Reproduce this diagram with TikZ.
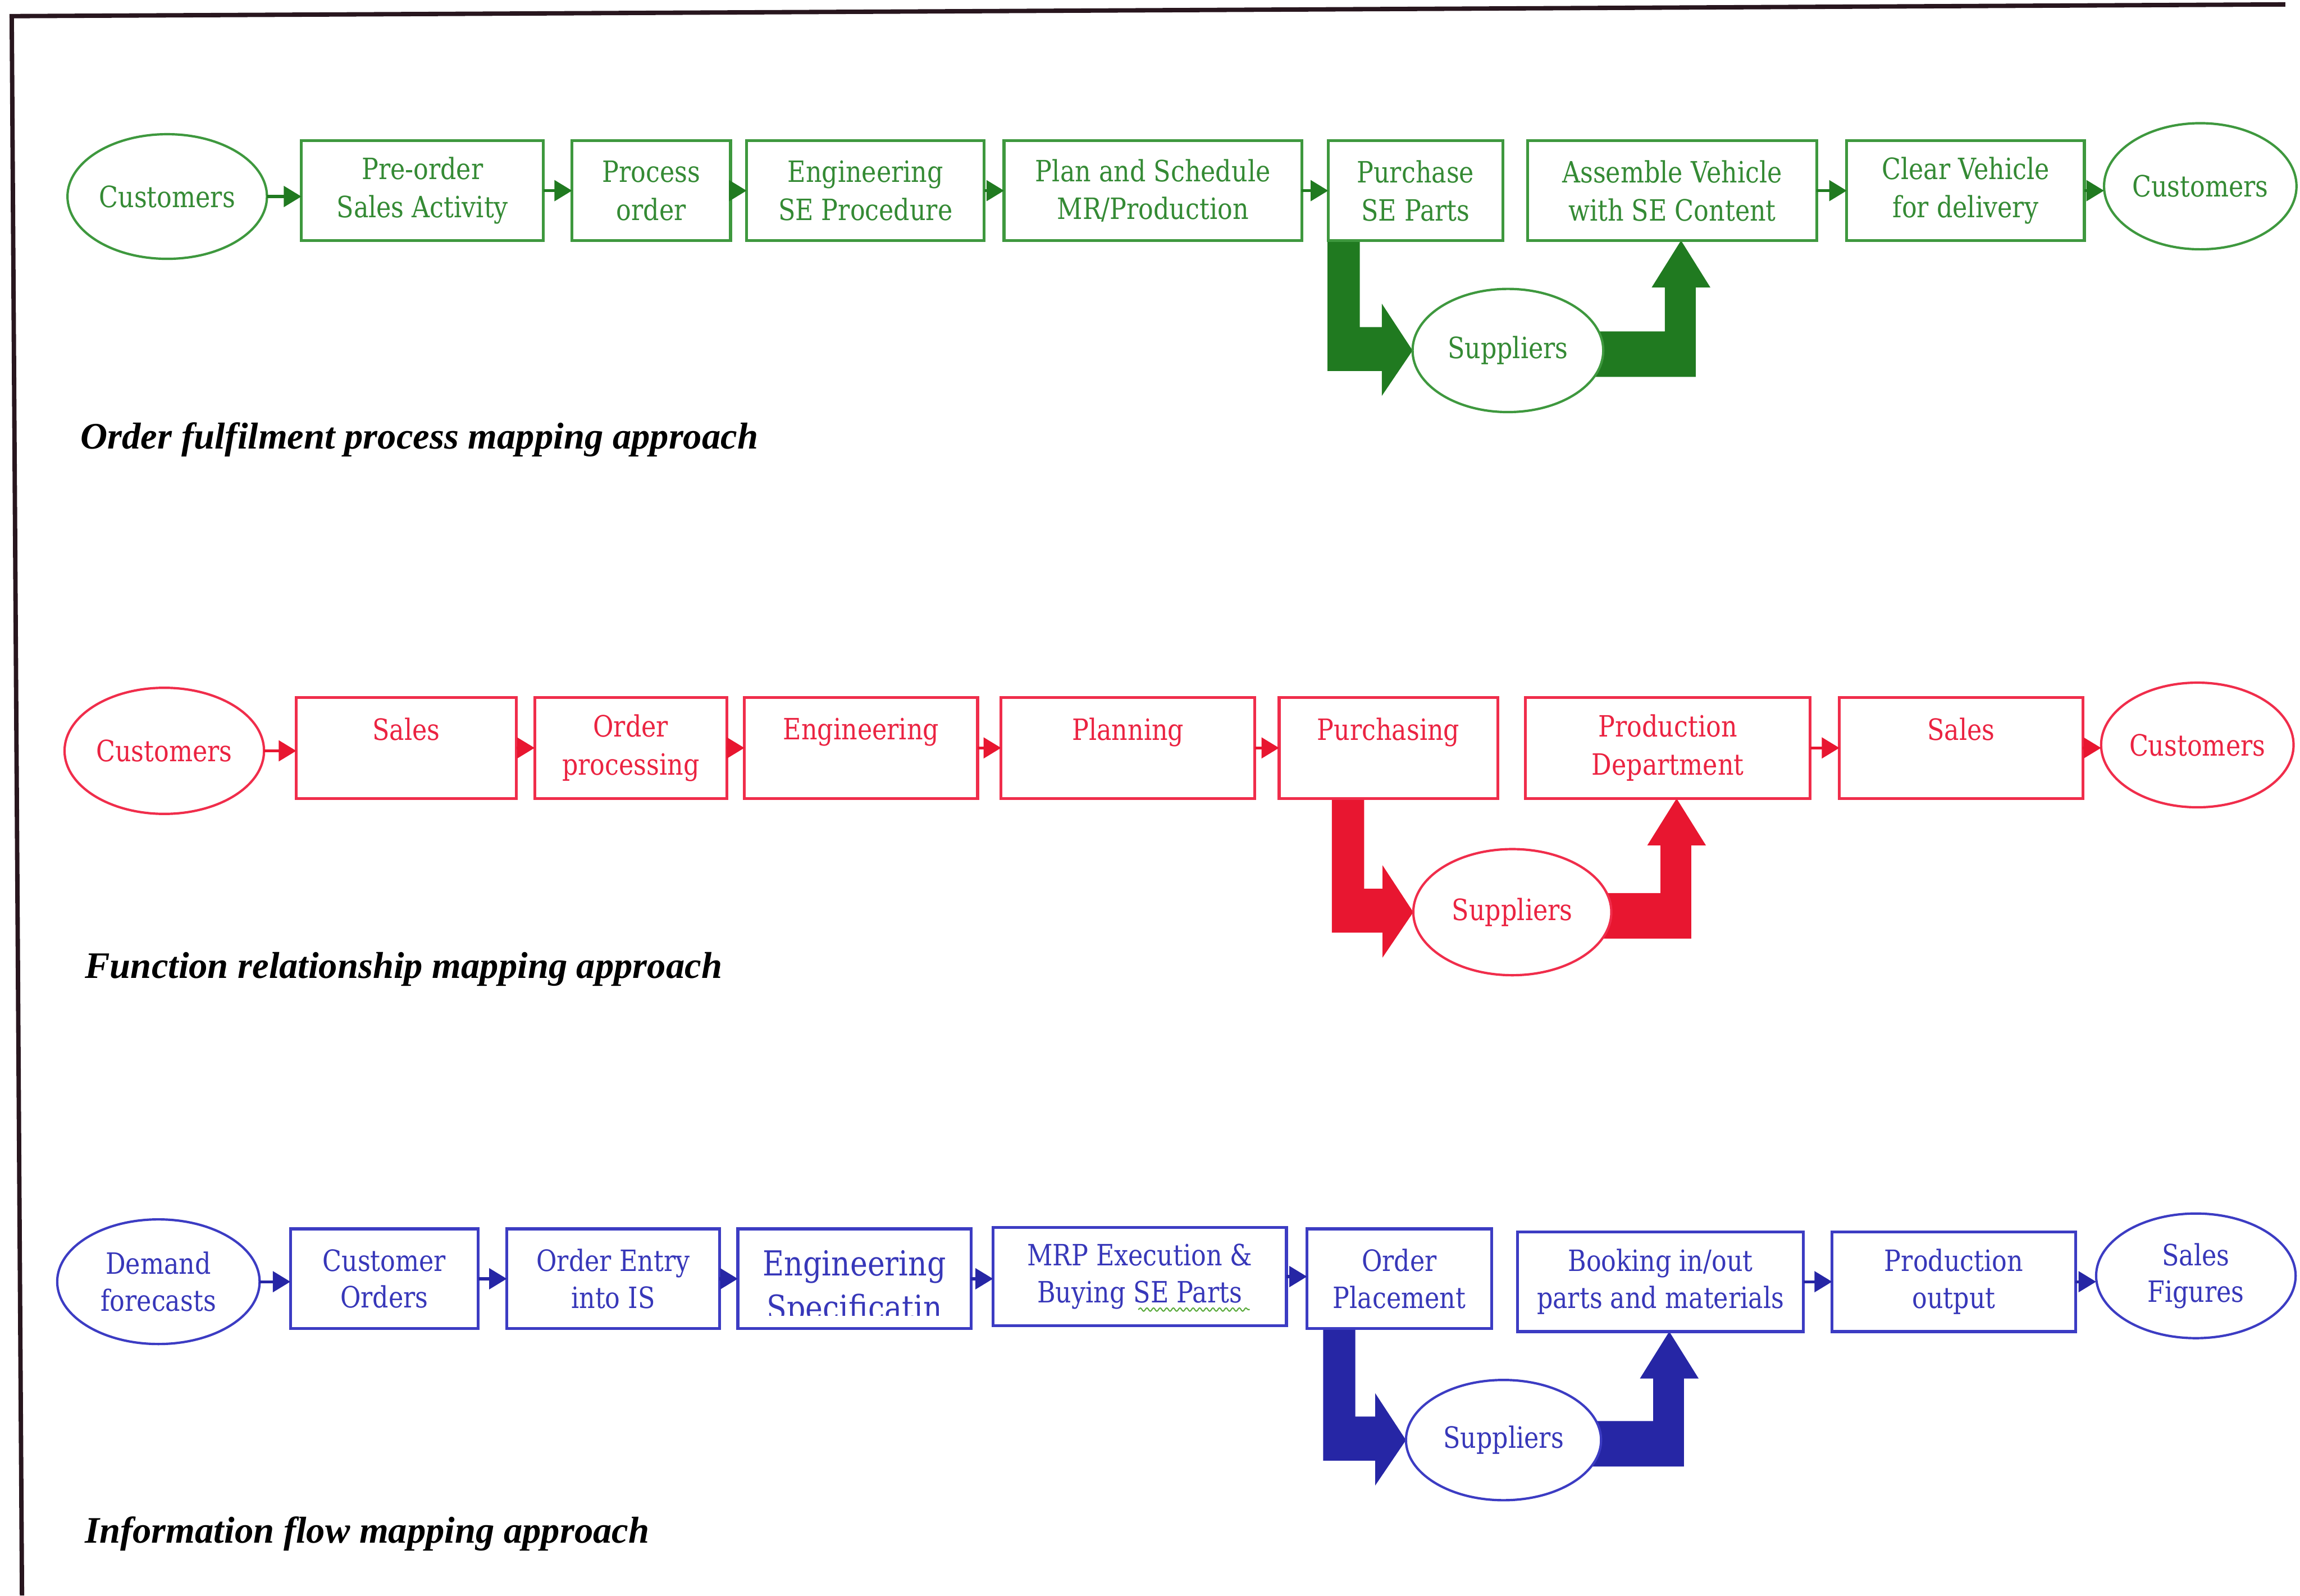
\documentclass[tikz,border=0pt]{standalone}
\usepackage{fontspec}
\setmainfont{Liberation Serif}
\newfontfamily\boxfont[FakeStretch=0.85]{DejaVu Serif}
\usetikzlibrary{calc,arrows.meta,backgrounds,shapes.geometric,decorations.pathmorphing}
\definecolor{gline}{RGB}{62,152,62}
\definecolor{gtext}{RGB}{52,138,52}
\definecolor{gdark}{RGB}{32,122,32}
\definecolor{rline}{RGB}{240,45,75}
\definecolor{rtext}{RGB}{235,35,65}
\definecolor{rdark}{RGB}{232,22,48}
\definecolor{bline}{RGB}{60,60,195}
\definecolor{btext}{RGB}{55,55,185}
\definecolor{bdark}{RGB}{38,38,165}
\definecolor{framec}{RGB}{40,22,30}
\definecolor{squig}{RGB}{90,170,60}

% thick L-shaped arrow from a box down into the supplier ellipse
\newcommand{\downin}[3]{%
  \coordinate (#2-a) at ($(#2.center)+(-123,0)$);
  \fill[#3] (#2-a |- #1.south) -- ++(22,0) |- ($(#2.west)+(-21,-16)$) -- ++(0,-16)
     -- (#2.west) -- ($(#2.west)+(-21,31)$) -- ++(0,-17) -| (#2-a |- #1.south) -- cycle;}
% thick L-shaped arrow from the supplier ellipse up into a box
\newcommand{\upout}[3]{%
  \coordinate (#2-t) at ($(#2.south)+(6,0)$);
  \fill[#3] ($(#1.east)+(-6,-13)$) -| ($(#2-t)+(-11,32)$) -- ++(-9,0) -- (#2-t)
     -- ($(#2-t)+(20,32)$) -- ++(-10,0) |- ($(#1.east)+(-6,18)$) -- cycle;}
\newcommand{\cn}[3]{\draw[#1] (#2.east) -- (#2.east -| #3.west);}

\begin{document}
\begin{tikzpicture}[x=1pt,y=-1pt,
  every node/.style={inner sep=0pt, outer sep=0pt},
  lbl/.style={font=\boxfont\fontsize{20}{26}\selectfont, align=center},
  lblb/.style={font=\boxfont\fontsize{20}{25}\selectfont, align=center},
  gbox/.style={draw=gline, text=gtext, line width=2pt, fill=white, lbl},
  gell/.style={ellipse, draw=gline, text=gtext, line width=1.6pt, fill=white, lbl},
  rbox/.style={draw=rline, text=rtext, line width=2pt, fill=white, lbl},
  rell/.style={ellipse, draw=rline, text=rtext, line width=1.6pt, fill=white, lbl},
  bbox/.style={draw=bline, text=btext, line width=2pt, fill=white, lblb},
  bell/.style={ellipse, draw=bline, text=btext, line width=1.6pt, fill=white, lblb},
  conn/.style={line width=2pt, -{Triangle[length=12pt,width=14pt]}},
  gconn/.style={conn, draw=gdark, fill=gdark},
  rconn/.style={conn, draw=rdark, fill=rdark},
  bconn/.style={conn, draw=bdark, fill=bdark},
  ttl/.style={font=\fontsize{25.5}{30}\selectfont\bfseries\itshape, text=black, anchor=base west}]

\path[use as bounding box] (0,0) rectangle (1568,1088);
\draw[framec, line width=3pt] (15,1088) -- (8,11) -- (1558,3);

% ---------------- Row 1: order fulfilment ----------------
\node[gell, minimum width=136, minimum height=85] (c1l) at (114,134) {Customers};
\node[gbox, minimum width=165, minimum height=68] (pre) at (288,130) {Pre-order\\Sales Activity};
\node[gbox, minimum width=108, minimum height=68] (proc) at (444,130) {Process\\order};
\node[gbox, minimum width=162, minimum height=68] (eng1) at (590,130) {Engineering\\SE Procedure};
\node[gbox, minimum width=203, minimum height=68] (plan) at (786,130) {Plan and Schedule\\MR/Production};
\node[gbox, minimum width=119, minimum height=68] (purch) at (965,130) {Purchase\\SE Parts};
\node[gbox, minimum width=197, minimum height=68] (asm) at (1140,130) {Assemble Vehicle\\with SE Content};
\node[gbox, minimum width=162, minimum height=68] (clear) at (1340,130) {Clear Vehicle\\for delivery};
\node[gell, minimum width=125, minimum height=86] (c1r) at (1500,127) {Customers};
\node[gell, minimum width=130, minimum height=84] (sup1) at (1028,239) {Suppliers};

\cn{gconn}{c1l}{pre}
\cn{gconn}{pre}{proc}
\cn{gconn}{proc}{eng1}
\cn{gconn}{eng1}{plan}
\cn{gconn}{plan}{purch}
\cn{gconn}{asm}{clear}
\cn{gconn}{clear}{c1r}
\begin{scope}[on background layer]
  \downin{purch}{sup1}{gdark}
  \upout{sup1}{asm}{gdark}
\end{scope}
\node[ttl] (t1) at (55,306) {Order fulfilment process mapping approach};

% ---------------- Row 2: function relationship ----------------
\node[rell, minimum width=136, minimum height=86] (c2l) at (112,512) {Customers};
\node[rbox, minimum width=150, minimum height=69] (sal2) at (277,510) {Sales\\\mbox{}};
\node[rbox, minimum width=131, minimum height=69] (ordp) at (430,510) {Order\\processing};
\node[rbox, minimum width=159, minimum height=69] (eng2) at (587,510) {Engineering\\\mbox{}};
\node[rbox, minimum width=173, minimum height=69] (plan2) at (769,510) {Planning\\\mbox{}};
\node[rbox, minimum width=149, minimum height=69] (purch2) at (946.5,510) {Purchasing\\\mbox{}};
\node[rbox, minimum width=194, minimum height=69] (prod2) at (1137,510) {Production\\Department};
\node[rbox, minimum width=166, minimum height=69] (salb) at (1337,510) {Sales\\\mbox{}};
\node[rell, minimum width=130, minimum height=85] (c2r) at (1498,508) {Customers};
\node[rell, minimum width=135, minimum height=86] (sup2) at (1031,622) {Suppliers};

\cn{rconn}{c2l}{sal2}
\cn{rconn}{sal2}{ordp}
\cn{rconn}{ordp}{eng2}
\cn{rconn}{eng2}{plan2}
\cn{rconn}{plan2}{purch2}
\cn{rconn}{prod2}{salb}
\cn{rconn}{salb}{c2r}
\begin{scope}[on background layer]
  \downin{purch2}{sup2}{rdark}
  \upout{sup2}{prod2}{rdark}
\end{scope}
\node[ttl] (t2) at (58,667) {Function relationship mapping approach};

% ---------------- Row 3: information flow ----------------
\node[bell, minimum width=138, minimum height=85] (dem) at (108,874) {Demand\\forecasts};
\node[bbox, minimum width=128, minimum height=68] (cuso) at (262,872) {Customer\\Orders};
\node[bbox, minimum width=145, minimum height=68] (entry) at (418,872) {Order Entry\\into IS};
\node[bbox, minimum width=159, minimum height=68] (engs) at (582.5,872) {};
\node[bbox, minimum width=200, minimum height=67] (mrp) at (777,870.5) {MRP Execution \&\\Buying SE Parts};
\node[bbox, minimum width=126, minimum height=68] (place) at (954,872) {Order\\Placement};
\node[bbox, minimum width=195, minimum height=68] (book) at (1132,874) {Booking in/out\\parts and materials};
\node[bbox, minimum width=166, minimum height=68] (pout) at (1332,874) {Production\\output};
\node[bell, minimum width=136, minimum height=85] (salf) at (1497,870) {Sales\\Figures};
\node[bell, minimum width=133, minimum height=82] (sup3) at (1025,982) {Suppliers};

\begin{scope}
  \clip ($(engs.north west)+(2,2)$) rectangle ($(engs.south east)+(-2,-9)$);
  \node[text=btext, font=\boxfont\fontsize{23.5}{30}\selectfont, anchor=base] (engsA) at (582.5,870) {Engineering};
  \node[text=btext, font=\boxfont\fontsize{23.5}{30}\selectfont, anchor=base] (engsB) at (582.5,900) {Specificatin};
\end{scope}
\draw[squig, line width=0.8pt, decorate, decoration={snake, amplitude=1.1pt, segment length=4.5pt}] (776,893) -- (852,893);

\cn{bconn}{dem}{cuso}
\cn{bconn}{cuso}{entry}
\cn{bconn}{entry}{engs}
\cn{bconn}{engs}{mrp}
\cn{bconn}{mrp}{place}
\cn{bconn}{book}{pout}
\cn{bconn}{pout}{salf}
\begin{scope}[on background layer]
  \downin{place}{sup3}{bdark}
  \upout{sup3}{book}{bdark}
\end{scope}
\node[ttl] (t3) at (58,1052) {Information flow mapping approach};
\end{tikzpicture}
\end{document}
